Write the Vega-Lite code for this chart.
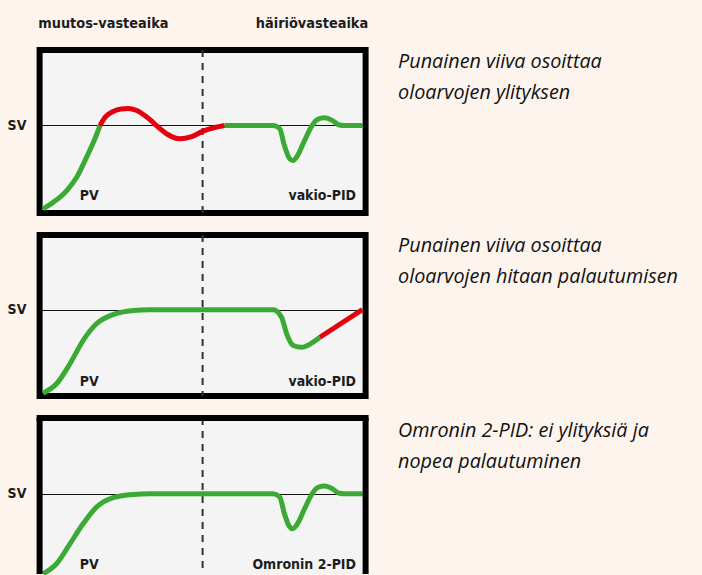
{
  "$schema": "https://vega.github.io/schema/vega-lite/v6.json",
  "background": "#fdf4ee",
  "padding": {"left": 3.6, "top": 12, "right": 0, "bottom": 0},
  "autosize": {"type": "pad"},
  "datasets": {
    "p1": [
      {"x": 0.1, "y": 1.1, "seg": "a", "kind": "ok"},
      {"x": 3.3, "y": 5.3, "seg": "a", "kind": "ok"},
      {"x": 7.5, "y": 12.7, "seg": "a", "kind": "ok"},
      {"x": 10.6, "y": 21.1, "seg": "a", "kind": "ok"},
      {"x": 13.7, "y": 33.8, "seg": "a", "kind": "ok"},
      {"x": 16.3, "y": 45.4, "seg": "a", "kind": "ok"},
      {"x": 17.9, "y": 53.8, "seg": "a", "kind": "ok"},
      {"x": 17.9, "y": 53.8, "seg": "b", "kind": "bad"},
      {"x": 19.6, "y": 59.2, "seg": "b", "kind": "bad"},
      {"x": 22.0, "y": 62.6, "seg": "b", "kind": "bad"},
      {"x": 24.5, "y": 64.2, "seg": "b", "kind": "bad"},
      {"x": 26.7, "y": 64.5, "seg": "b", "kind": "bad"},
      {"x": 29.2, "y": 63.4, "seg": "b", "kind": "bad"},
      {"x": 31.9, "y": 60.1, "seg": "b", "kind": "bad"},
      {"x": 33.8, "y": 57.0, "seg": "b", "kind": "bad"},
      {"x": 35.5, "y": 53.8, "seg": "b", "kind": "bad"},
      {"x": 39.1, "y": 48.1, "seg": "b", "kind": "bad"},
      {"x": 42.8, "y": 45.4, "seg": "b", "kind": "bad"},
      {"x": 46.6, "y": 46.8, "seg": "b", "kind": "bad"},
      {"x": 50.1, "y": 50.2, "seg": "b", "kind": "bad"},
      {"x": 53.8, "y": 52.5, "seg": "b", "kind": "bad"},
      {"x": 56.9, "y": 53.8, "seg": "b", "kind": "bad"},
      {"x": 56.9, "y": 53.8, "seg": "c", "kind": "ok"},
      {"x": 72.0, "y": 53.8, "seg": "c", "kind": "ok"},
      {"x": 74.1, "y": 51.9, "seg": "c", "kind": "ok"},
      {"x": 75.6, "y": 41.1, "seg": "c", "kind": "ok"},
      {"x": 77.2, "y": 32.9, "seg": "c", "kind": "ok"},
      {"x": 78.2, "y": 31.6, "seg": "c", "kind": "ok"},
      {"x": 79.7, "y": 34.8, "seg": "c", "kind": "ok"},
      {"x": 81.9, "y": 44.3, "seg": "c", "kind": "ok"},
      {"x": 84.1, "y": 53.2, "seg": "c", "kind": "ok"},
      {"x": 85.9, "y": 57.6, "seg": "c", "kind": "ok"},
      {"x": 88.1, "y": 58.7, "seg": "c", "kind": "ok"},
      {"x": 90.6, "y": 57.0, "seg": "c", "kind": "ok"},
      {"x": 92.8, "y": 54.1, "seg": "c", "kind": "ok"},
      {"x": 94.4, "y": 53.8, "seg": "c", "kind": "ok"},
      {"x": 100, "y": 53.8, "seg": "c", "kind": "ok"}
    ],
    "p2": [
      {"x": 0.1, "y": 0.3, "seg": "a", "kind": "ok"},
      {"x": 4.3, "y": 6.3, "seg": "a", "kind": "ok"},
      {"x": 8.5, "y": 19.1, "seg": "a", "kind": "ok"},
      {"x": 12.6, "y": 34.0, "seg": "a", "kind": "ok"},
      {"x": 16.8, "y": 44.7, "seg": "a", "kind": "ok"},
      {"x": 22.0, "y": 50.6, "seg": "a", "kind": "ok"},
      {"x": 28.3, "y": 53.2, "seg": "a", "kind": "ok"},
      {"x": 33.5, "y": 53.7, "seg": "a", "kind": "ok"},
      {"x": 50.0, "y": 53.7, "seg": "a", "kind": "ok"},
      {"x": 72.1, "y": 53.7, "seg": "a", "kind": "ok"},
      {"x": 74.7, "y": 48.9, "seg": "a", "kind": "ok"},
      {"x": 76.3, "y": 38.3, "seg": "a", "kind": "ok"},
      {"x": 78.4, "y": 30.8, "seg": "a", "kind": "ok"},
      {"x": 81.0, "y": 29.7, "seg": "a", "kind": "ok"},
      {"x": 84.1, "y": 32.3, "seg": "a", "kind": "ok"},
      {"x": 86.7, "y": 36.1, "seg": "a", "kind": "ok"},
      {"x": 86.7, "y": 36.1, "seg": "b", "kind": "bad"},
      {"x": 100, "y": 53.7, "seg": "b", "kind": "bad"}
    ],
    "p3": [
      {"x": 0.1, "y": 2.4, "seg": "a", "kind": "ok"},
      {"x": 4.3, "y": 8.8, "seg": "a", "kind": "ok"},
      {"x": 8.5, "y": 21.5, "seg": "a", "kind": "ok"},
      {"x": 12.6, "y": 34.2, "seg": "a", "kind": "ok"},
      {"x": 16.8, "y": 44.8, "seg": "a", "kind": "ok"},
      {"x": 22.0, "y": 50.8, "seg": "a", "kind": "ok"},
      {"x": 28.3, "y": 52.9, "seg": "a", "kind": "ok"},
      {"x": 33.5, "y": 53.3, "seg": "a", "kind": "ok"},
      {"x": 50.0, "y": 53.3, "seg": "a", "kind": "ok"},
      {"x": 72.0, "y": 53.3, "seg": "a", "kind": "ok"},
      {"x": 74.1, "y": 51.4, "seg": "a", "kind": "ok"},
      {"x": 75.6, "y": 40.6, "seg": "a", "kind": "ok"},
      {"x": 77.2, "y": 32.4, "seg": "a", "kind": "ok"},
      {"x": 78.2, "y": 31.1, "seg": "a", "kind": "ok"},
      {"x": 79.7, "y": 34.3, "seg": "a", "kind": "ok"},
      {"x": 81.9, "y": 43.8, "seg": "a", "kind": "ok"},
      {"x": 84.1, "y": 52.7, "seg": "a", "kind": "ok"},
      {"x": 85.9, "y": 57.1, "seg": "a", "kind": "ok"},
      {"x": 88.1, "y": 58.2, "seg": "a", "kind": "ok"},
      {"x": 90.6, "y": 56.5, "seg": "a", "kind": "ok"},
      {"x": 92.8, "y": 53.6, "seg": "a", "kind": "ok"},
      {"x": 94.4, "y": 53.3, "seg": "a", "kind": "ok"},
      {"x": 100, "y": 53.3, "seg": "a", "kind": "ok"}
    ]
  },
  "config": {
    "view": {"stroke": "#000000", "strokeWidth": 6, "fill": "#f4f4f4"},
    "text": {"font": "DejaVu Sans Condensed", "fontSize": 14, "fontWeight": "bold", "color": "#1d1d1b"}
  },
  "columns": 2,
  "spacing": {"row": 22, "column": 10},
  "bounds": "flush",
  "align": "each",
  "concat": [
    {
      "width": 326,
      "height": 163,
      "layer": [
        {
          "data": {"values": [{}]},
          "mark": {"type": "rule", "strokeDash": [7, 6], "strokeWidth": 2, "color": "#333333"},
          "encoding": {"x": {"datum": 50, "type": "quantitative", "axis": null}}
        },
        {
          "data": {"name": "p1"},
          "mark": {"type": "line", "interpolate": "monotone", "strokeWidth": 5},
          "encoding": {
            "x": {"field": "x", "type": "quantitative", "scale": {"domain": [-1, 101], "nice": false, "zero": false}, "axis": null},
            "y": {"field": "y", "type": "quantitative", "scale": {"domain": [-1.5, 101.5], "nice": false, "zero": false},
              "axis": {"values": [53.8], "labelExpr": "'SV'", "title": null, "ticks": false, "domain": false, "grid": true, "gridColor": "#111111", "gridWidth": 1.2, "labelPadding": 13.7, "labelFont": "DejaVu Sans Condensed", "labelFontSize": 14, "labelFontWeight": "bold", "labelColor": "#1d1d1b"}},
            "color": {"field": "kind", "type": "nominal", "scale": {"domain": ["ok", "bad"], "range": ["#3aaa35", "#e3000f"]}, "legend": null},
            "detail": {"field": "seg"}
          }
        },
        {
          "data": {"values": [{}]},
          "mark": {"type": "text", "align": "left", "baseline": "alphabetic", "fontSize": 14.4},
          "encoding": {"x": {"datum": -1.44, "type": "quantitative", "axis": null}, "y": {"datum": 115.5, "type": "quantitative"}, "text": {"value": "muutos-vasteaika"}}
        },
        {
          "data": {"values": [{}]},
          "mark": {"type": "text", "align": "right", "baseline": "alphabetic", "fontSize": 14.4},
          "encoding": {"x": {"datum": 101.8, "type": "quantitative", "axis": null}, "y": {"datum": 115.5, "type": "quantitative"}, "text": {"value": "häiriövasteaika"}}
        },
        {
          "data": {"values": [{}]},
          "mark": {"type": "text", "align": "left", "baseline": "alphabetic"},
          "encoding": {"x": {"datum": 11.6, "type": "quantitative", "axis": null}, "y": {"datum": 6.4, "type": "quantitative"}, "text": {"value": "PV"}}
        },
        {
          "data": {"values": [{}]},
          "mark": {"type": "text", "align": "right", "baseline": "alphabetic"},
          "encoding": {"x": {"datum": 98, "type": "quantitative", "axis": null}, "y": {"datum": 6.4, "type": "quantitative"}, "text": {"value": "vakio-PID"}}
        }
      ]
    },
    {
      "width": 326,
      "height": 163,
      "view": {"stroke": null, "fill": null},
      "data": {"values": [{}]},
      "mark": {"type": "text", "align": "left", "baseline": "alphabetic", "font": "Open Sans", "fontStyle": "italic", "fontWeight": "normal", "fontSize": 19.8, "lineHeight": 31, "color": "#111111"},
      "encoding": {
        "x": {"datum": 6.9, "type": "quantitative", "scale": {"domain": [0, 100], "nice": false}, "axis": null},
        "y": {"datum": 89.1, "type": "quantitative", "scale": {"domain": [0, 100], "nice": false}, "axis": null},
        "text": {"value": ["Punainen viiva osoittaa", "oloarvojen ylityksen"]}
      }
    },
    {
      "width": 326,
      "height": 161,
      "layer": [
        {
          "data": {"values": [{}]},
          "mark": {"type": "rule", "strokeDash": [7, 6], "strokeWidth": 2, "color": "#333333"},
          "encoding": {"x": {"datum": 50, "type": "quantitative", "axis": null}}
        },
        {
          "data": {"name": "p2"},
          "mark": {"type": "line", "interpolate": "monotone", "strokeWidth": 5},
          "encoding": {
            "x": {"field": "x", "type": "quantitative", "scale": {"domain": [-1, 101], "nice": false, "zero": false}, "axis": null},
            "y": {"field": "y", "type": "quantitative", "scale": {"domain": [-1.5, 101.5], "nice": false, "zero": false},
              "axis": {"values": [53.7], "labelExpr": "'SV'", "title": null, "ticks": false, "domain": false, "grid": true, "gridColor": "#111111", "gridWidth": 1.2, "labelPadding": 13.7, "labelFont": "DejaVu Sans Condensed", "labelFontSize": 14, "labelFontWeight": "bold", "labelColor": "#1d1d1b"}},
            "color": {"field": "kind", "type": "nominal", "scale": {"domain": ["ok", "bad"], "range": ["#3aaa35", "#e3000f"]}, "legend": null},
            "detail": {"field": "seg"}
          }
        },
        {
          "data": {"values": [{}]},
          "mark": {"type": "text", "align": "left", "baseline": "alphabetic"},
          "encoding": {"x": {"datum": 11.6, "type": "quantitative", "axis": null}, "y": {"datum": 5.2, "type": "quantitative"}, "text": {"value": "PV"}}
        },
        {
          "data": {"values": [{}]},
          "mark": {"type": "text", "align": "right", "baseline": "alphabetic"},
          "encoding": {"x": {"datum": 98, "type": "quantitative", "axis": null}, "y": {"datum": 5.2, "type": "quantitative"}, "text": {"value": "vakio-PID"}}
        }
      ]
    },
    {
      "width": 326,
      "height": 161,
      "view": {"stroke": null, "fill": null},
      "data": {"values": [{}]},
      "mark": {"type": "text", "align": "left", "baseline": "alphabetic", "font": "Open Sans", "fontStyle": "italic", "fontWeight": "normal", "fontSize": 19.8, "lineHeight": 31, "color": "#111111"},
      "encoding": {
        "x": {"datum": 6.9, "type": "quantitative", "scale": {"domain": [0, 100], "nice": false}, "axis": null},
        "y": {"datum": 89.3, "type": "quantitative", "scale": {"domain": [0, 100], "nice": false}, "axis": null},
        "text": {"value": ["Punainen viiva osoittaa", "oloarvojen hitaan palautumisen"]}
      }
    },
    {
      "width": 326,
      "height": 156,
      "view": {"stroke": null, "fill": "#f4f4f4"},
      "layer": [
        {
          "data": {"values": [{}]},
          "mark": {"type": "rule", "strokeDash": [7, 6], "strokeWidth": 2, "color": "#333333"},
          "encoding": {"x": {"datum": 50, "type": "quantitative", "axis": null}}
        },
        {
          "data": {"name": "p3"},
          "mark": {"type": "line", "interpolate": "monotone", "strokeWidth": 5},
          "encoding": {
            "x": {"field": "x", "type": "quantitative", "scale": {"domain": [-1, 101], "nice": false, "zero": false}, "axis": null},
            "y": {"field": "y", "type": "quantitative", "scale": {"domain": [2.3, 101.5], "nice": false, "zero": false},
              "axis": {"values": [53.3], "labelExpr": "'SV'", "title": null, "ticks": false, "domain": false, "grid": true, "gridColor": "#111111", "gridWidth": 1.2, "labelPadding": 13.7, "labelFont": "DejaVu Sans Condensed", "labelFontSize": 14, "labelFontWeight": "bold", "labelColor": "#1d1d1b"}},
            "color": {"field": "kind", "type": "nominal", "scale": {"domain": ["ok", "bad"], "range": ["#3aaa35", "#e3000f"]}, "legend": null},
            "detail": {"field": "seg"}
          }
        },
        {
          "data": {"values": [{}]},
          "mark": {"type": "text", "align": "left", "baseline": "alphabetic"},
          "encoding": {"x": {"datum": 11.6, "type": "quantitative", "axis": null}, "y": {"datum": 5.6, "type": "quantitative"}, "text": {"value": "PV"}}
        },
        {
          "data": {"values": [{}]},
          "mark": {"type": "text", "align": "right", "baseline": "alphabetic"},
          "encoding": {"x": {"datum": 98, "type": "quantitative", "axis": null}, "y": {"datum": 5.6, "type": "quantitative"}, "text": {"value": "Omronin 2-PID"}}
        },
        {
          "data": {"values": [{}]},
          "mark": {"type": "rule", "strokeWidth": 6, "color": "#000000"},
          "encoding": {"x": {"datum": -1, "type": "quantitative", "axis": null}}
        },
        {
          "data": {"values": [{}]},
          "mark": {"type": "rule", "strokeWidth": 6, "color": "#000000"},
          "encoding": {"x": {"datum": 101, "type": "quantitative", "axis": null}}
        },
        {
          "data": {"values": [{}]},
          "mark": {"type": "rule", "strokeWidth": 6, "color": "#000000", "strokeCap": "square"},
          "encoding": {"y": {"datum": 101.5, "type": "quantitative"}}
        }
      ]
    },
    {
      "width": 326,
      "height": 156,
      "view": {"stroke": null, "fill": null},
      "data": {"values": [{}]},
      "mark": {"type": "text", "align": "left", "baseline": "alphabetic", "font": "Open Sans", "fontStyle": "italic", "fontWeight": "normal", "fontSize": 19.8, "lineHeight": 31, "color": "#111111"},
      "encoding": {
        "x": {"datum": 6.9, "type": "quantitative", "scale": {"domain": [0, 100], "nice": false}, "axis": null},
        "y": {"datum": 88.1, "type": "quantitative", "scale": {"domain": [0, 100], "nice": false}, "axis": null},
        "text": {"value": ["Omronin 2-PID: ei ylityksiä ja", "nopea palautuminen"]}
      }
    }
  ]
}
